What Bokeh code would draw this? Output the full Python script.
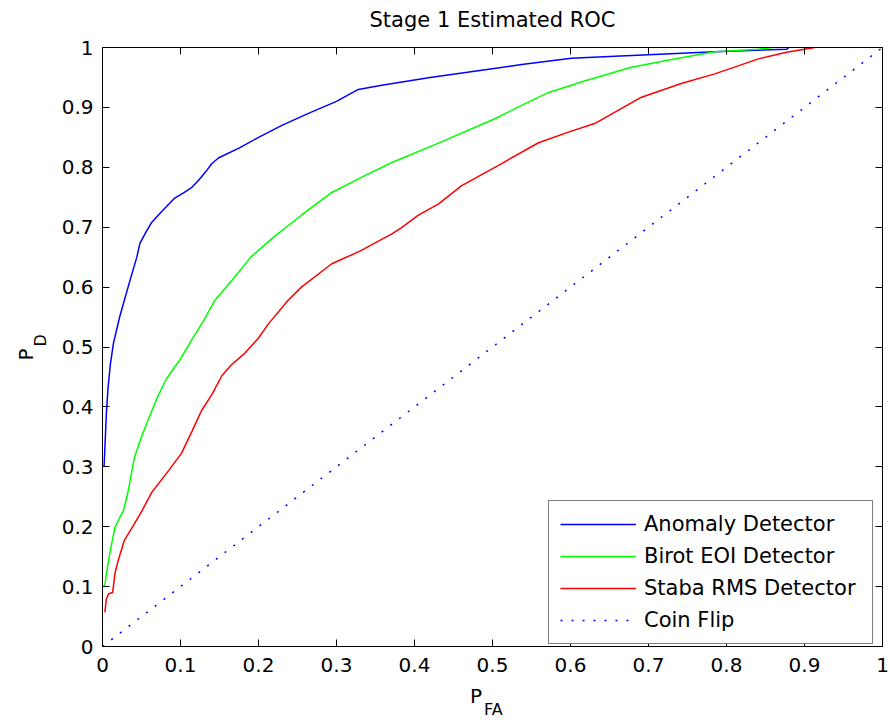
from math import pi
from bokeh.plotting import figure
from bokeh.models import Label, LinearAxis, FixedTicker, Legend, LegendItem, Range1d
from bokeh.embed import file_html
from bokeh.resources import INLINE

title_text = "Stage 1 Estimated ROC"
tick_values = [0, 0.1, 0.2, 0.3, 0.4, 0.5, 0.6, 0.7, 0.8, 0.9, 1]
tick_labels = ["0", "0.1", "0.2", "0.3", "0.4", "0.5", "0.6", "0.7", "0.8", "0.9", "1"]
series_names = ["Anomaly Detector", "Birot EOI Detector", "Staba RMS Detector", "Coin Flip"]

anomaly_pfa = [0.002, 0.003, 0.005, 0.007, 0.010, 0.014, 0.018, 0.022, 0.028, 0.035,
               0.044, 0.048, 0.055, 0.063, 0.075, 0.092, 0.105, 0.114, 0.123, 0.132,
               0.140, 0.149, 0.175, 0.200, 0.230, 0.264, 0.300, 0.328, 0.358, 0.420,
               0.486, 0.540, 0.601, 0.650, 0.700, 0.785, 0.877, 0.880]
anomaly_pd = [0.300, 0.330, 0.390, 0.430, 0.470, 0.506, 0.528, 0.550, 0.578, 0.610,
              0.650, 0.673, 0.690, 0.708, 0.725, 0.748, 0.758, 0.766, 0.778, 0.792,
              0.806, 0.816, 0.832, 0.850, 0.870, 0.890, 0.910, 0.930, 0.937, 0.950,
              0.962, 0.972, 0.982, 0.985, 0.988, 0.993, 0.997, 1.000]

birot_pfa = [0.001, 0.003, 0.006, 0.010, 0.016, 0.022, 0.027, 0.033, 0.041, 0.050,
             0.060, 0.070, 0.082, 0.100, 0.114, 0.130, 0.144, 0.169, 0.190, 0.219,
             0.255, 0.294, 0.330, 0.371, 0.430, 0.503, 0.540, 0.572, 0.620, 0.678,
             0.730, 0.785, 0.840, 0.860]
birot_pd = [0.100, 0.102, 0.130, 0.160, 0.199, 0.215, 0.227, 0.260, 0.316, 0.350,
            0.383, 0.415, 0.447, 0.480, 0.511, 0.545, 0.578, 0.616, 0.650, 0.683,
            0.720, 0.758, 0.782, 0.808, 0.840, 0.881, 0.905, 0.925, 0.945, 0.967,
            0.980, 0.993, 0.997, 1.000]

staba_pfa = [0.003, 0.005, 0.008, 0.013, 0.016, 0.020, 0.028, 0.041, 0.050, 0.063,
             0.085, 0.101, 0.115, 0.127, 0.140, 0.153, 0.165, 0.182, 0.200, 0.213,
             0.238, 0.255, 0.294, 0.330, 0.371, 0.383, 0.405, 0.431, 0.460, 0.510,
             0.559, 0.600, 0.631, 0.691, 0.742, 0.785, 0.841, 0.877, 0.900, 0.913]
staba_pd = [0.057, 0.080, 0.088, 0.090, 0.122, 0.143, 0.177, 0.205, 0.225, 0.257,
            0.294, 0.322, 0.360, 0.394, 0.420, 0.452, 0.470, 0.489, 0.515, 0.539,
            0.578, 0.600, 0.639, 0.660, 0.689, 0.699, 0.720, 0.739, 0.769, 0.805,
            0.841, 0.860, 0.873, 0.917, 0.940, 0.956, 0.981, 0.992, 0.997, 1.000]

coin_pfa = [0, 1]
coin_pd = [0, 1]

FONT = "DejaVu Sans"

p = figure(width=890, height=723, output_backend="svg", toolbar_location=None,
           x_range=Range1d(0, 1), y_range=Range1d(0, 1),
           min_border_left=102, min_border_right=8, min_border_top=47, min_border_bottom=77)
p.outline_line_color = None
p.grid.visible = False
p.background_fill_color = "white"
p.border_fill_color = "white"

bottom_axis = p.below[0]
left_axis = p.left[0]
top_axis = LinearAxis()
right_axis = LinearAxis()
p.add_layout(top_axis, "above")
p.add_layout(right_axis, "right")

overrides = {v: l for v, l in zip(tick_values, tick_labels)}
for ax in [bottom_axis, left_axis, top_axis, right_axis]:
    ax.ticker = FixedTicker(ticks=tick_values)
    ax.major_tick_in = 7
    ax.major_tick_out = 0
    ax.minor_tick_in = 0
    ax.minor_tick_out = 0
    ax.axis_line_color = "black"
    ax.axis_line_width = 1
    ax.major_tick_line_color = "black"
    ax.major_label_overrides = overrides
    ax.major_label_text_font = FONT
    ax.major_label_text_font_size = "20px"
    ax.major_label_text_color = "black"

for ax in [top_axis, right_axis]:
    ax.major_label_text_color = None
    ax.major_label_standoff = 0

bottom_axis.major_label_standoff = 11
left_axis.major_label_standoff = 9

r1 = p.line(anomaly_pfa, anomaly_pd, line_color="#0000ff", line_width=1.5)
r2 = p.line(birot_pfa, birot_pd, line_color="#00ff00", line_width=1.5)
r3 = p.line(staba_pfa, staba_pd, line_color="#ff0000", line_width=1.5)
r4 = p.line(coin_pfa, coin_pd, line_color="#0000ff", line_width=1.5, line_dash="2 9")

legend = Legend(items=[LegendItem(label=series_names[0], renderers=[r1]),
                       LegendItem(label=series_names[1], renderers=[r2]),
                       LegendItem(label=series_names[2], renderers=[r3]),
                       LegendItem(label=series_names[3], renderers=[r4])],
                location=(446, 2))
legend.margin = 0
legend.padding = 11
legend.spacing = 8
legend.glyph_width = 76
legend.glyph_height = 20
legend.label_height = 20
legend.label_width = 217
legend.label_standoff = 8
legend.label_text_font = FONT
legend.label_text_font_size = "21px"
legend.label_text_color = "black"
legend.border_line_color = "black"
legend.border_line_width = 1
legend.background_fill_color = "white"
legend.background_fill_alpha = 1
p.add_layout(legend)

p.add_layout(Label(x=0.5, y=1.0458, text=title_text, text_align="center",
                   text_baseline="alphabetic", text_font=FONT, text_font_size="21px",
                   text_color="black"), "above")
p.add_layout(Label(x=-0.098, y=0.4875, text="P", angle=pi / 2, text_align="center",
                   text_baseline="alphabetic", text_font=FONT, text_font_size="20px",
                   text_color="black"), "left")
p.add_layout(Label(x=-0.0796, y=0.511, text="D", angle=pi / 2, text_align="center",
                   text_baseline="alphabetic", text_font=FONT, text_font_size="16px",
                   text_color="black"), "left")
p.add_layout(Label(x=0.4712, y=-0.0826, text="P", text_align="left",
                   text_baseline="alphabetic", text_font=FONT, text_font_size="20px",
                   text_color="black"), "below")
p.add_layout(Label(x=0.4891, y=-0.105, text="FA", text_align="left",
                   text_baseline="alphabetic", text_font=FONT, text_font_size="16px",
                   text_color="black"), "below")

open("out.html", "w").write(file_html(p, INLINE))
